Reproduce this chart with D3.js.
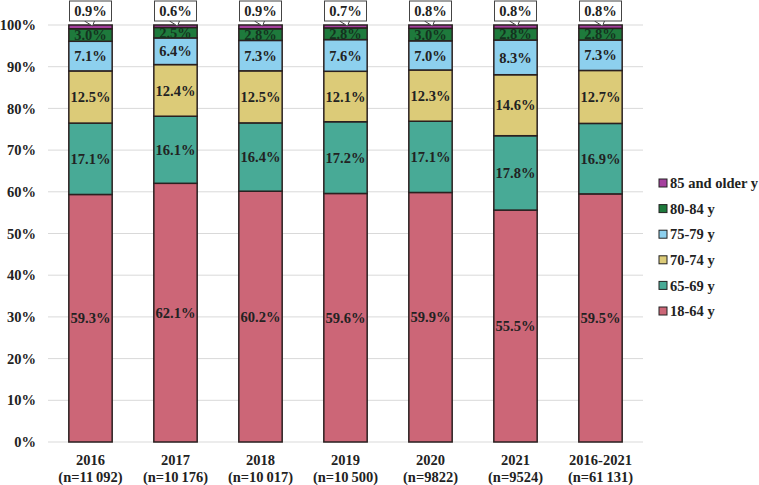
<!DOCTYPE html>
<html><head><meta charset="utf-8">
<script src="https://cdn.jsdelivr.net/npm/d3@7"></script>
<style>body{margin:0;background:#fff}svg{display:block}</style>
</head><body><svg id="c" width="759" height="485"></svg>
<script>
const categories = ["2016","2017","2018","2019","2020","2021","2016-2021"];
const sampleSizes = ["(n=11\u2009092)","(n=10\u2009176)","(n=10\u2009017)","(n=10\u2009500)","(n=9822)","(n=9524)","(n=61\u2009131)"];
const seriesNames = ["18-64 y","65-69 y","70-74 y","75-79 y","80-84 y","85 and older y"];
const s18_64 = [59.3,62.1,60.2,59.6,59.9,55.5,59.5];
const s65_69 = [17.1,16.1,16.4,17.2,17.1,17.8,16.9];
const s70_74 = [12.5,12.4,12.5,12.1,12.3,14.6,12.7];
const s75_79 = [7.1,6.4,7.3,7.6,7.0,8.3,7.3];
const s80_84 = [3.0,2.5,2.8,2.8,3.0,2.8,2.8];
const s85plus = [0.9,0.6,0.9,0.7,0.8,0.8,0.8];
const yTicks = [0,10,20,30,40,50,60,70,80,90,100];
const colors = ["#CC6677","#48AA96","#DCCB78","#8DD0EE","#1E7A3C","#A5409E"];

(function(){
const seriesVals = [s18_64,s65_69,s70_74,s75_79,s80_84,s85plus];
const rows = categories.map((c,i)=>{const r={cat:c}; seriesNames.forEach((s,j)=>r[s]=seriesVals[j][i]); return r;});
rows.forEach(r=>{r._t=d3.sum(seriesNames,s=>r[s]);});
const stack = d3.stack().keys(seriesNames).value((d,k)=>d[k]/d._t*100);
const layers = stack(rows);

const svg = d3.select("#c");
const font = "'Liberation Serif','Times New Roman',serif";
const fs = 14.5;
const x = d3.scaleBand().domain(categories).range([48,643]).paddingInner(0.49).paddingOuter(0.245);
const y = d3.scaleLinear().domain([0,100]).range([442,25]);

svg.append("g").selectAll("line").data(yTicks).join("line")
  .attr("x1",48).attr("x2",643).attr("y1",d=>y(d)).attr("y2",d=>y(d))
  .attr("stroke","#d9d9d9").attr("stroke-width",1);

const yAxis = d3.axisLeft(y).tickValues(yTicks).tickFormat(d=>d+"%").tickSize(0).tickPadding(0);
const ya = svg.append("g").attr("transform","translate(36,0)").call(yAxis);
ya.select(".domain").remove();
ya.selectAll("text").attr("font-family",font).attr("font-weight","bold").attr("font-size",fs).attr("fill","#222").attr("x",0);

const g = svg.append("g");
layers.forEach((layer,li)=>{
  g.append("g").selectAll("rect").data(layer).join("rect")
    .attr("x",d=>x(d.data.cat)).attr("width",x.bandwidth())
    .attr("y",d=>y(d[1])).attr("height",d=>y(d[0])-y(d[1]))
    .attr("fill",colors[li]).attr("stroke","#2a2020").attr("stroke-width",1.5);
});

layers.forEach((layer,li)=>{
  if(li===5) return;
  g.append("g").selectAll("text").data(layer).join("text")
    .attr("x",d=>x(d.data.cat)+x.bandwidth()/2)
    .attr("y",d=>(y(d[0])+y(d[1]))/2)
    .attr("dy","0.36em")
    .attr("text-anchor","middle")
    .attr("font-family",font).attr("font-weight","bold").attr("font-size",fs)
    .attr("fill", li===4 ? "#14331f" : "#222")
    .text((d,i)=>seriesVals[li][i].toFixed(1)+"%");
});

const topLayer = layers[5];
const cg = svg.append("g").selectAll("g").data(topLayer).join("g");
cg.append("path")
  .attr("d",d=>{const cx=x(d.data.cat)+x.bandwidth()/2; const by=21; const ty=y(d[1])+1;
    return `M${cx-6},${by} L${cx+2},${ty} L${cx+4},${by}`;})
  .attr("fill","#fff").attr("stroke","#444").attr("stroke-width",1);
cg.append("rect")
  .attr("x",d=>x(d.data.cat)+x.bandwidth()/2-21).attr("y",1).attr("width",42).attr("height",20)
  .attr("fill","#fff").attr("stroke","#444").attr("stroke-width",1);
cg.append("text")
  .attr("x",d=>x(d.data.cat)+x.bandwidth()/2).attr("y",11).attr("dy","0.36em")
  .attr("text-anchor","middle").attr("font-family",font).attr("font-weight","bold").attr("font-size",fs).attr("fill","#222")
  .text((d,i)=>s85plus[i].toFixed(1)+"%");

const xl = svg.append("g").selectAll("text").data(categories).join("text")
  .attr("text-anchor","middle")
  .attr("font-family",font).attr("font-weight","bold").attr("font-size",fs).attr("fill","#222");
xl.append("tspan").attr("x",d=>x(d)+x.bandwidth()/2).attr("y",465).text(d=>d);
xl.append("tspan").attr("x",d=>x(d)+x.bandwidth()/2).attr("y",482).text((d,i)=>sampleSizes[i]);

const legOrder = seriesNames.map((s,i)=>({s,c:colors[i]})).reverse();
const lg = svg.append("g").selectAll("g").data(legOrder).join("g")
  .attr("transform",(d,i)=>`translate(659,${183+i*25.6})`);
lg.append("rect").attr("x",0).attr("y",-4).attr("width",8).attr("height",8)
  .attr("fill",d=>d.c).attr("stroke","#222").attr("stroke-width",1);
lg.append("text").attr("x",11).attr("y",0).attr("dy","0.36em")
  .attr("font-family",font).attr("font-weight","bold").attr("font-size",fs).attr("fill","#222")
  .text(d=>d.s);
})();
</script></body></html>
